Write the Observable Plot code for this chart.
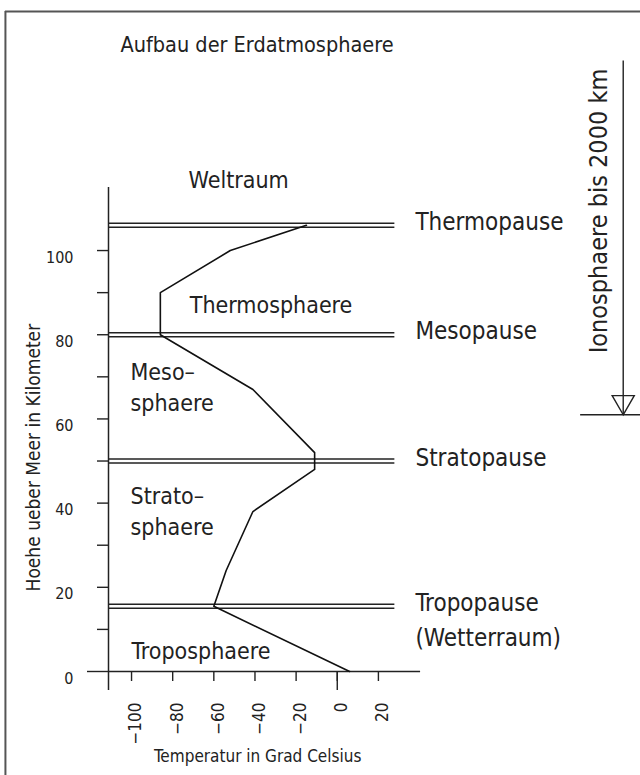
<!DOCTYPE html>
<html><head><meta charset="utf-8">
<script src="https://cdn.jsdelivr.net/npm/d3@7"></script>
<script src="https://cdn.jsdelivr.net/npm/@observablehq/plot@0.6"></script>
<style>
body{margin:0;background:#fff;}
#chart svg{display:block;}
</style></head><body><div id="chart"></div>
<script>
const FONT = '"DejaVu Sans Condensed", "Liberation Sans Narrow", "DejaVu Sans", sans-serif';

// ---- data (temperature in °C, altitude in km) ----
const profileTemp = [6, -60, -54, -41, -11, -11, -41, -86, -86, -52, -15];
const profileAlt  = [0, 15.5, 24, 38, 48, 52, 67, 80, 90, 100, 106];

const pauseNames = ["Tropopause", "Stratopause", "Mesopause", "Thermopause"];
const pauseAlt   = [15.5, 50, 80, 106];

const layerNames = ["Troposphaere", "Strato–\nsphaere", "Meso–\nsphaere", "Thermosphaere", "Weltraum"];
const layerTemp  = [-100, -100.5, -100.5, -71.7, -72.3];
const layerAlt   = [5.4, 38.5, 68, 87.6, 117.3];

const tempTicks = [-100, -80, -60, -40, -20, 0, 20];
const altTicks  = [10, 20, 30, 40, 50, 60, 70, 80, 90, 100];
const altLabels = [0, 20, 40, 60, 80, 100];

const ionoLabel = "Ionosphaere bis 2000 km";
const ionoBase  = 61;   // km, lower end of the ionosphere arrow
const ionoTop   = 145;

const titleText = "Aufbau der Erdatmosphaere";
const xLabel = "Temperatur in Grad Celsius";
const yLabel = "Hoehe ueber Meer in Kilometer";

// ---- scale setup ----
const xMin = -111.2, xMax = 147.4;
const yMax = 159.4;
const boundaryEnd = 28;     // right end of the double lines (°C)
const labelX = 38;          // where the pause names start (°C)
const ionoX = 139;
const fmt = d => d < 0 ? "−" + Math.abs(d) : String(d);
const ink = "#222";

const profile = profileTemp.map((t, i) => ({t, h: profileAlt[i]}));
const pauses = pauseNames.map((n, i) => ({n, h: pauseAlt[i]}));
const layers = layerNames.map((n, i) => ({n, t: layerTemp[i], h: layerAlt[i]}));

const plot = Plot.plot({
  width: 640, height: 775,
  marginLeft: 108, marginRight: 0, marginTop: 0, marginBottom: 104,
  x: {domain: [xMin, xMax], axis: null},
  y: {domain: [0, yMax], axis: null},
  style: {fontFamily: FONT, background: "#fff", color: ink, overflow: "visible"},
  marks: [
    // page border (top and left)
    Plot.ruleX([-161.3], {y1: -40, y2: 156.8, stroke: "#555", strokeWidth: 2}),
    Plot.ruleY([156.8], {x1: -161.3, x2: 170, stroke: "#555", strokeWidth: 2}),
    // axis lines
    Plot.ruleX([xMin], {y1: -4.5, y2: 115, stroke: ink, strokeWidth: 1.5}),
    Plot.ruleY([0], {x1: xMin, x2: 40.5, stroke: ink, strokeWidth: 1.5}),
    // y ticks
    Plot.axisY({ticks: altTicks, tickSize: 11, tickFormat: () => "", label: null, strokeWidth: 1.4}),
    Plot.axisY({ticks: [0], tickSize: 21, tickFormat: () => "", label: null, strokeWidth: 1.4}),
    Plot.axisY({ticks: altLabels, tickSize: 0, tickPadding: 35, dy: 7, tickFormat: fmt, label: null, fontSize: 16, fontFamily: FONT}),
    // x ticks
    Plot.axisX({ticks: tempTicks, tickSize: 10, tickFormat: () => "", label: null, strokeWidth: 1.4}),
    Plot.axisX({ticks: [0], tickSize: 19, tickFormat: () => "", label: null, strokeWidth: 1.4}),
    Plot.axisX({ticks: tempTicks, tickSize: 0, tickPadding: 31, tickRotate: -90, dx: 4.5, tickFormat: fmt, label: null, fontSize: 17, fontFamily: FONT}),
    // boundary double lines
    Plot.ruleY(pauses, {y: "h", x1: xMin, x2: boundaryEnd, dy: -2, stroke: ink, strokeWidth: 1.5}),
    Plot.ruleY(pauses, {y: "h", x1: xMin, x2: boundaryEnd, dy: 2, stroke: ink, strokeWidth: 1.5}),
    // temperature profile
    Plot.line(profile, {x: "t", y: "h", stroke: "#111", strokeWidth: 1.6}),
    // pause names
    Plot.text(pauses, {x: () => labelX, y: "h", text: "n", textAnchor: "start", dy: -3, fontSize: 24, fontFamily: FONT, fill: ink}),
    Plot.text(["(Wetterraum)"], {x: () => labelX, y: () => 8, text: d => d, textAnchor: "start", fontSize: 24, fontFamily: FONT, fill: ink}),
    // layer names
    Plot.text(layers, {x: "t", y: "h", text: "n", textAnchor: "start", lineHeight: 1.35, fontSize: 23, fontFamily: FONT, fill: ink}),
    // title
    Plot.text([titleText], {x: () => -39, y: () => 148.8, text: d => d, fontSize: 21.5, fontFamily: FONT, fill: ink}),
    // axis titles
    Plot.text([yLabel], {x: () => -147.4, y: () => 50.8, text: d => d, rotate: -90, fontSize: 19, fontFamily: FONT, fill: ink}),
    Plot.text([xLabel], {x: () => -38.7, y: () => -20.3, text: d => d, fontSize: 17, fontFamily: FONT, fill: ink}),
    // ionosphere annotation
    Plot.text([ionoLabel], {x: () => 127, y: () => 109.4, text: d => d, rotate: -90, fontSize: 25, fontFamily: FONT, fill: ink}),
    Plot.ruleX([ionoX], {y1: ionoBase, y2: ionoTop, stroke: ink, strokeWidth: 1.4}),
    Plot.ruleY([ionoBase], {x1: 118.3, x2: 150, stroke: ink, strokeWidth: 1.4}),
    Plot.dot([ionoX], {x: d => d, y: () => ionoBase, symbol: "triangle", rotate: 180, r: 8.2, dy: -12.7, stroke: ink, strokeWidth: 1.4, fill: "none"})
  ]
});
document.getElementById("chart").append(plot);
</script>
</body></html>
